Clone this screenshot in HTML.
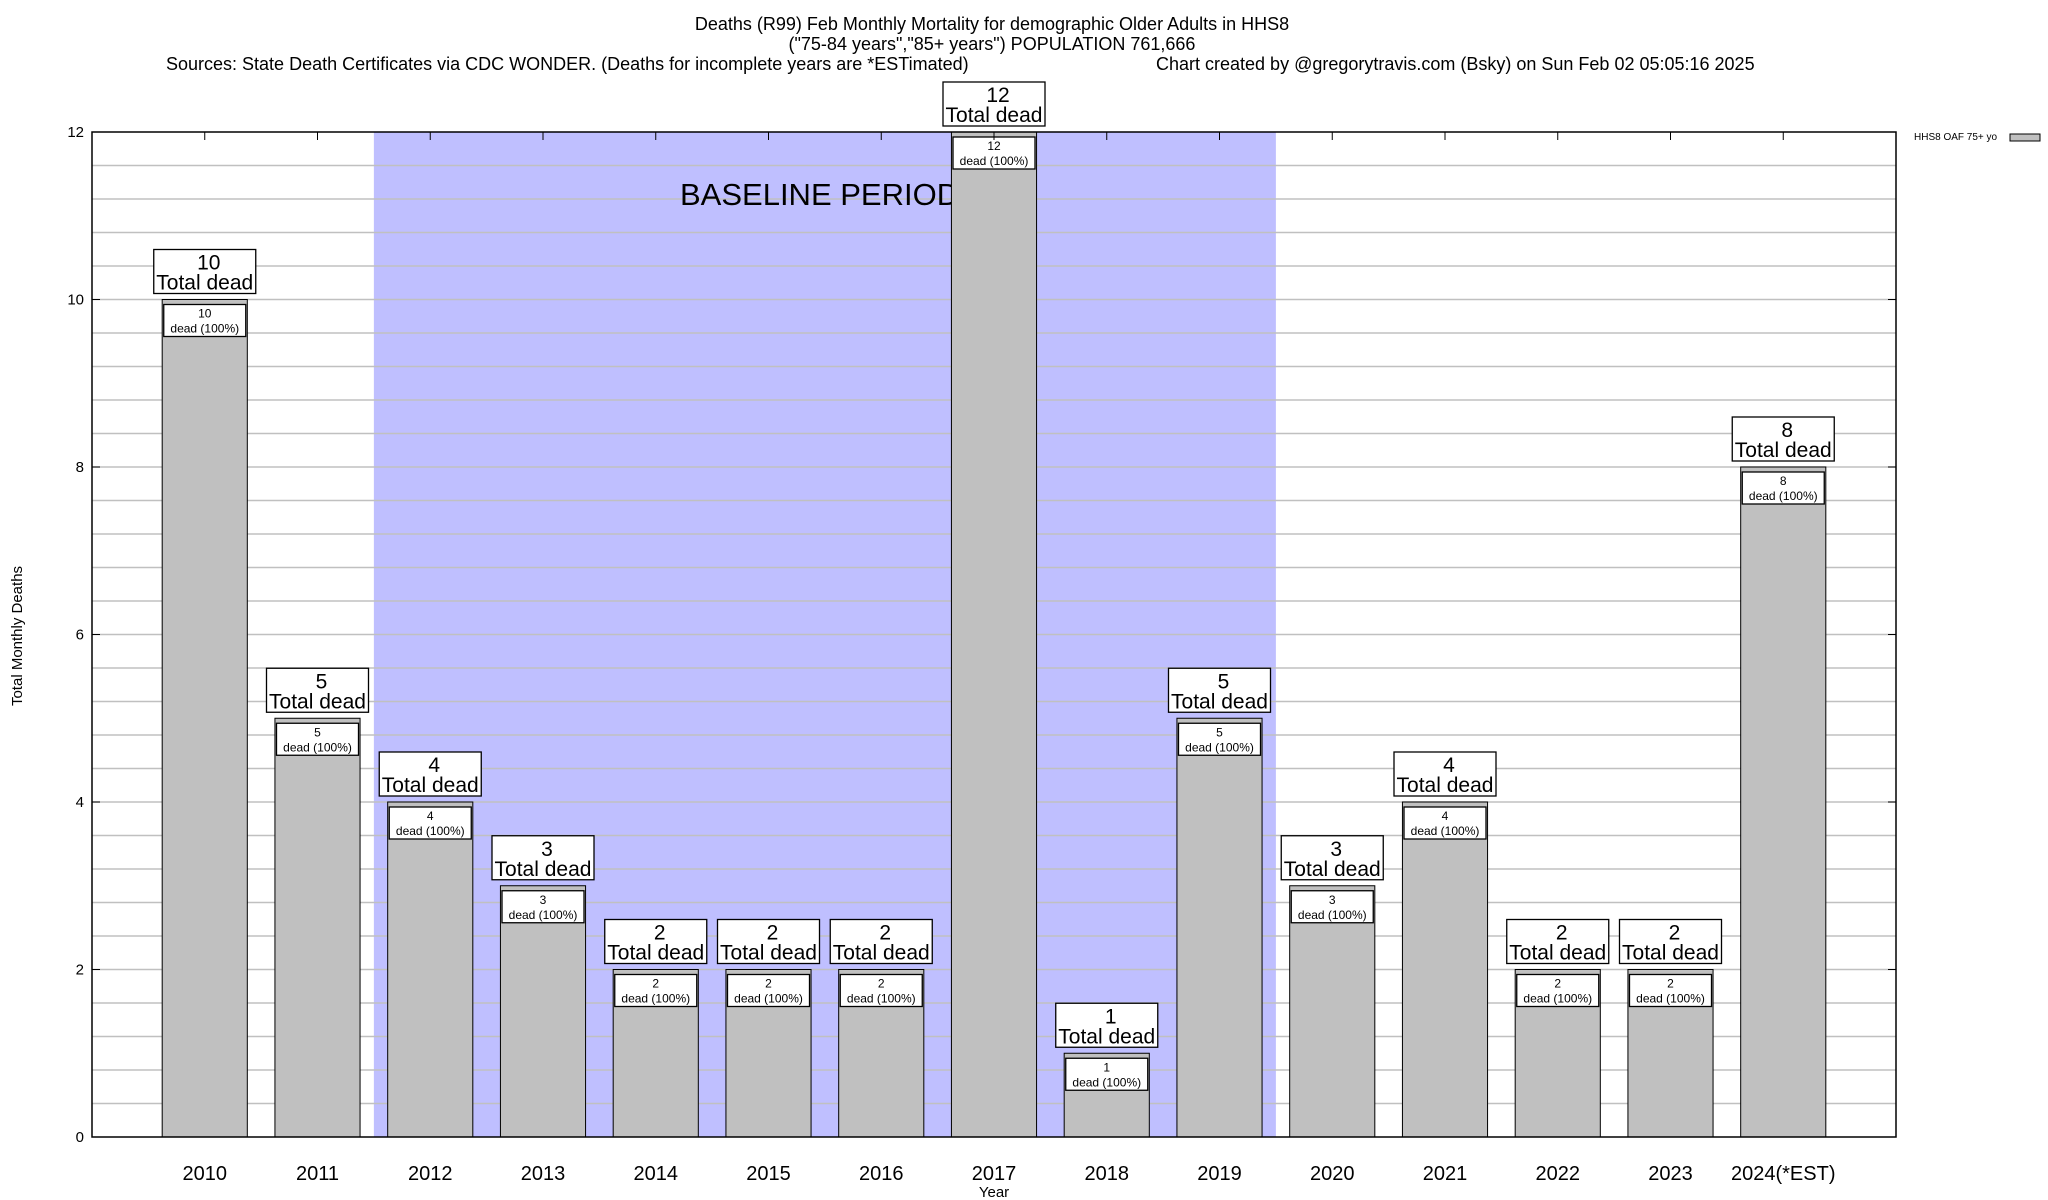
<!DOCTYPE html>
<html><head><meta charset="utf-8"><style>
html,body{margin:0;padding:0;background:#fff}
svg{display:block;font-family:"Liberation Sans",sans-serif}
</style></head><body>
<svg id="chart" width="2048" height="1200" viewBox="0 0 2048 1200">
<g id="titles">
<text x="992" y="30" font-size="18" text-anchor="middle">Deaths (R99) Feb Monthly Mortality for demographic Older Adults in HHS8</text>
<text x="992" y="50" font-size="18" text-anchor="middle">("75-84 years","85+ years") POPULATION 761,666</text>
<text x="166" y="70" font-size="18">Sources: State Death Certificates via CDC WONDER. (Deaths for incomplete years are *ESTimated)</text>
<text x="1156" y="70" font-size="18">Chart created by @gregorytravis.com (Bsky) on Sun Feb 02 05:05:16 2025</text>
</g>
</svg>
<script>
const categories = ["2010","2011","2012","2013","2014","2015","2016","2017","2018","2019","2020","2021","2022","2023","2024(*EST)"];
const deaths = [10,5,4,3,2,2,2,12,1,5,3,4,2,2,8];
const yTicks = [0,2,4,6,8,10,12];
const baselineStart = 2; // index of 2012
const baselineEnd = 9;   // index of 2019

const NS="http://www.w3.org/2000/svg";
const svg=document.getElementById('chart');
const L=92,R=1896,T=132,B=1137,yMax=12;
const step=(R-L)/(categories.length+1);
const xPos=i=>L+step*(i+1);
const yPos=v=>B-(v/yMax)*(B-T);
function mk(tag,attrs,parent){const e=document.createElementNS(NS,tag);for(const k in attrs)e.setAttribute(k,attrs[k]);(parent||svg).appendChild(e);return e;}

// baseline shading
const shade=mk('rect',{x:xPos(baselineStart)-step/2,y:T,width:step*(baselineEnd-baselineStart+1),height:B-T,fill:'#bfbfff'});



// gridlines every 0.4
for(let v=0.4;v<yMax-0.01;v+=0.4){
  const gl=mk('line',{x1:L,x2:R,y1:yPos(v),y2:yPos(v),stroke:'#c0c0c0','stroke-width':1.5});
  
  
}
const bl=mk('text',{x:680,y:205,'font-size':31});
bl.textContent='BASELINE PERIOD';



const bw=step*0.755;
categories.forEach((c,i)=>{
  const v=deaths[i],x=xPos(i),y=yPos(v);
  const bar=mk('rect',{x:x-bw/2,y:y,width:bw,height:B-y,fill:'#c0c0c0',stroke:'#000','stroke-width':1});
  
  
  const ib=mk('rect',{x:x-41,y:y+5,width:82,height:32,fill:'#fff',stroke:'#000','stroke-width':1.3});
  
  
  const t1=mk('text',{x:x,y:y+18,'font-size':12,'text-anchor':'middle'});t1.textContent=v;
  
  
  const t2=mk('text',{x:x,y:y+33,'font-size':12,'text-anchor':'middle'});t2.textContent='dead (100%)';
  
  
  const ob=mk('rect',{x:x-51,y:y-50,width:102,height:44,fill:'#fff',stroke:'#000','stroke-width':1.3});
  
  
  const t3=mk('text',{x:x+4,y:y-30,'font-size':21,'text-anchor':'middle'});t3.textContent=v;
  
  
  const t4=mk('text',{x:x,y:y-10,'font-size':21,'text-anchor':'middle'});t4.textContent='Total dead';
  
  
  const xl=mk('text',{x:x,y:1180,'font-size':20,'text-anchor':'middle'});xl.textContent=c;
  
  
  const tk=mk('line',{x1:x,x2:x,y1:T,y2:T+8,stroke:'#000'});
  
  
});
yTicks.forEach(v=>{
  const t=mk('text',{x:84,y:yPos(v)+5,'font-size':15,'text-anchor':'end'});t.textContent=v;
  
  
  const a=mk('line',{x1:L,x2:L+8,y1:yPos(v),y2:yPos(v),stroke:'#000'});
  
  
  const b=mk('line',{x1:R-8,x2:R,y1:yPos(v),y2:yPos(v),stroke:'#000'});
  
  
});
const frame=mk('rect',{x:L,y:T,width:R-L,height:B-T,fill:'none',stroke:'#000','stroke-width':1.5});


const xt=mk('text',{x:994,y:1197,'font-size':15,'text-anchor':'middle'});xt.textContent='Year';


const yt=mk('text',{x:22,y:636,'font-size':15,'text-anchor':'middle',transform:'rotate(-90 22 636)'});yt.textContent='Total Monthly Deaths';


const lg=mk('text',{x:1914,y:140,'font-size':10});lg.textContent='HHS8 OAF 75+ yo';


const sw=mk('rect',{x:2010,y:134,width:30,height:7,fill:'#c0c0c0',stroke:'#000'});


</script>
</body></html>
